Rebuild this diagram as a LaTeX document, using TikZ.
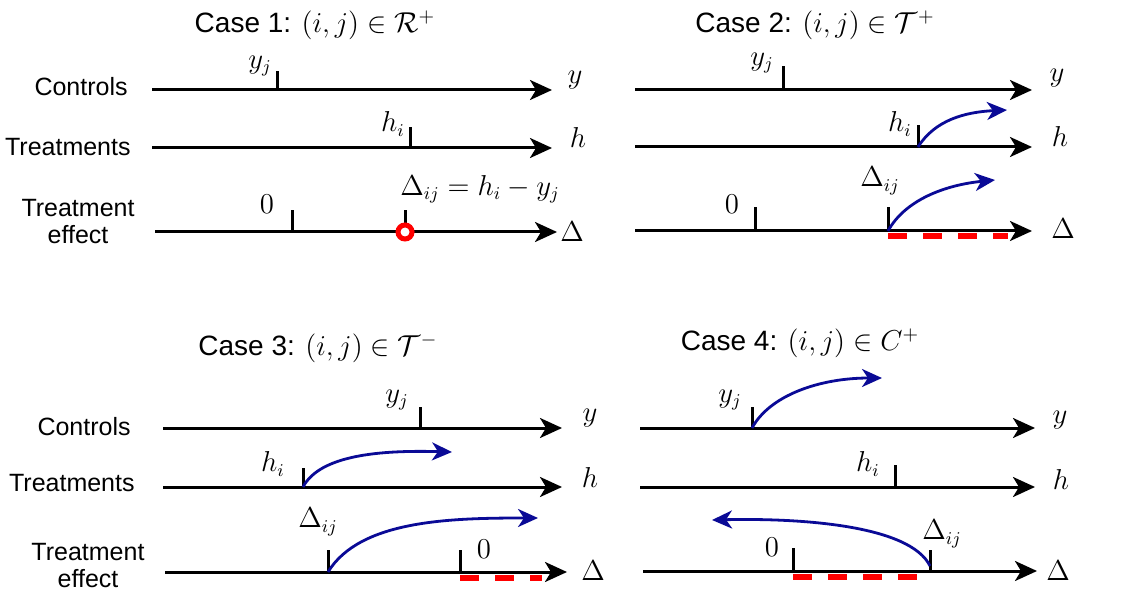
\documentclass[tikz,border=0pt]{standalone}
\usepackage{fontspec}
\setmainfont{Liberation Sans}
\usetikzlibrary{arrows.meta}
\begin{document}
\begin{tikzpicture}[x=0.5pt,y=-0.5pt,
  ax/.style={line width=1.5pt,-{Stealth[length=11pt,width=10pt,inset=3pt]}},
  tk/.style={line width=1.5pt},
  bl/.style={line width=1.4pt,draw={rgb,255:red,10;green,10;blue,150},-{Stealth[length=10pt,width=9pt,inset=3pt]}},
  rd/.style={line width=2.8pt,red,dash pattern=on 9.5pt off 8pt},
  lab/.style={font=\fontsize{12.5}{13.5}\selectfont,inner sep=1pt},
  mt/.style={font=\fontsize{13.5}{14}\selectfont,inner sep=1pt},
  ttl/.style={font=\fontsize{14}{15}\selectfont,inner sep=1pt}]
\useasboundingbox (0,0) rectangle (1130,604);
% ---------- Case 1
\node[ttl] (t1) at (315,25) {Case 1: $(i,j)\in\mathcal{R}^{+}$};
\node[lab,anchor=east] (c1) at (130,87) {Controls};
\node[lab,anchor=east] (r1) at (133,147) {Treatments};
\node[lab,align=center] (e1) at (78,222) {Treatment\\effect};
\coordinate (a1s) at (152,90); \coordinate (a1e) at (552,90);
\coordinate (b1s) at (152,148); \coordinate (b1e) at (552,148);
\coordinate (d1s) at (155,232); \coordinate (d1e) at (557,232);
\draw[ax] (a1s)--(a1e); \draw[ax] (b1s)--(b1e); \draw[ax] (d1s)--(d1e);
\node[mt] (y1) at (575,80) {$y$};
\node[mt] (h1) at (578,138) {$h$};
\node[mt] (D1) at (572,232) {$\Delta$};
\coordinate (yt1) at (277,90); \draw[tk] (yt1)--++(0,-19);
\node[mt] (yj1) at (260,66) {$y_j$};
\coordinate (ht1) at (410,148); \draw[tk] (ht1)--++(0,-21);
\node[mt] (hi1) at (393,124) {$h_i$};
\coordinate (zt1) at (292,232); \draw[tk] (zt1)--++(0,-22);
\node[mt] (z1) at (267,204) {$0$};
\coordinate (dt1) at (405,232); \draw[tk] (dt1)--++(0,-22);
\draw[red,line width=2.5pt,fill=white] (dt1) circle (7);
\node[mt] (dl1) at (480,189) {$\Delta_{ij}=h_i-y_j$};
% ---------- Case 2
\node[ttl] (t2) at (815,25) {Case 2: $(i,j)\in\mathcal{T}^{+}$};
\coordinate (a2s) at (635,90); \coordinate (a2e) at (1032,90);
\coordinate (b2s) at (635,147); \coordinate (b2e) at (1032,147);
\coordinate (d2s) at (635,231); \coordinate (d2e) at (1032,231);
\draw[ax] (a2s)--(a2e); \draw[ax] (b2s)--(b2e); \draw[ax] (d2s)--(d2e);
\node[mt] (y2) at (1057,78) {$y$};
\node[mt] (h2) at (1060,137) {$h$};
\node[mt] (D2) at (1063,229) {$\Delta$};
\coordinate (yt2) at (783,90); \draw[tk] (yt2)--++(0,-24);
\node[mt] (yj2) at (762,63) {$y_j$};
\coordinate (ht2) at (918,147); \draw[tk] (ht2)--++(0,-22);
\node[mt] (hi2) at (900,124) {$h_i$};
\coordinate (ae2) at (1007,110);
\draw[bl] (ht2) .. controls (935,120) and (965,112) .. (ae2);
\coordinate (zt2) at (755,231); \draw[tk] (zt2)--++(0,-24);
\node[mt] (z2) at (732,204) {$0$};
\coordinate (dt2) at (888,231); \draw[tk] (dt2)--++(0,-24);
\node[mt] (dl2) at (880,181) {$\Delta_{ij}$};
\coordinate (de2) at (995,180);
\draw[bl] (dt2) .. controls (905,200) and (945,185) .. (de2);
\coordinate (r2s) at (888,236); \coordinate (r2e) at (1008,236);
\draw[rd] (r2s)--(r2e);
% ---------- Case 3
\node[ttl] (t3) at (318,348) {Case 3: $(i,j)\in\mathcal{T}^{-}$};
\node[lab,anchor=east] (c3) at (133,427) {Controls};
\node[lab,anchor=east] (r3) at (137,483) {Treatments};
\node[lab,align=center] (e3) at (88,566) {Treatment\\effect};
\coordinate (a3s) at (163,428); \coordinate (a3e) at (562,428);
\coordinate (b3s) at (163,487); \coordinate (b3e) at (562,487);
\coordinate (d3s) at (165,572); \coordinate (d3e) at (567,572);
\draw[ax] (a3s)--(a3e); \draw[ax] (b3s)--(b3e); \draw[ax] (d3s)--(d3e);
\node[mt] (y3) at (590,418) {$y$};
\node[mt] (h3) at (590,477) {$h$};
\node[mt] (D3) at (593,571) {$\Delta$};
\coordinate (yt3) at (420,428); \draw[tk] (yt3)--++(0,-21);
\node[mt] (yj3) at (397,400) {$y_j$};
\coordinate (ht3) at (303,487); \draw[tk] (ht3)--++(0,-19);
\node[mt] (hi3) at (273,464) {$h_i$};
\coordinate (ae3) at (452,452);
\draw[bl] (ht3) .. controls (320,455) and (380,450) .. (ae3);
\coordinate (dt3) at (328,572); \draw[tk] (dt3)--++(0,-22);
\node[mt] (dl3) at (318,522) {$\Delta_{ij}$};
\coordinate (de3) at (538,518);
\draw[bl] (dt3) .. controls (360,520) and (450,518) .. (de3);
\coordinate (zt3) at (460,572); \draw[tk] (zt3)--++(0,-22);
\node[mt] (z3) at (484,549) {$0$};
\coordinate (r3s) at (460,578); \coordinate (r3e) at (542,578);
\draw[rd] (r3s)--(r3e);
% ---------- Case 4
\node[ttl] (t4) at (800,343) {Case 4: $(i,j)\in C^{+}$};
\coordinate (a4s) at (640,428); \coordinate (a4e) at (1035,428);
\coordinate (b4s) at (640,487); \coordinate (b4e) at (1035,487);
\coordinate (d4s) at (643,571); \coordinate (d4e) at (1037,571);
\draw[ax] (a4s)--(a4e); \draw[ax] (b4s)--(b4e); \draw[ax] (d4s)--(d4e);
\node[mt] (y4) at (1060,420) {$y$};
\node[mt] (h4) at (1061,479) {$h$};
\node[mt] (D4) at (1058,571) {$\Delta$};
\coordinate (yt4) at (752,428); \draw[tk] (yt4)--++(0,-21);
\node[mt] (yj4) at (730,400) {$y_j$};
\coordinate (ae4) at (882,378);
\draw[bl] (yt4) .. controls (770,395) and (820,378) .. (ae4);
\coordinate (ht4) at (895,487); \draw[tk] (ht4)--++(0,-22);
\node[mt] (hi4) at (868,464) {$h_i$};
\coordinate (zt4) at (793,571); \draw[tk] (zt4)--++(0,-23);
\node[mt] (z4) at (772,547) {$0$};
\coordinate (dt4) at (930,571); \draw[tk] (dt4)--++(0,-21);
\node[mt] (dl4) at (942,534) {$\Delta_{ij}$};
\coordinate (ds4) at (930,566); \coordinate (de4) at (712,520);
\draw[bl] (ds4) .. controls (910,525) and (800,518) .. (de4);
\coordinate (r4s) at (793,577); \coordinate (r4e) at (918,577);
\draw[rd] (r4s)--(r4e);
\end{tikzpicture}
\end{document}
